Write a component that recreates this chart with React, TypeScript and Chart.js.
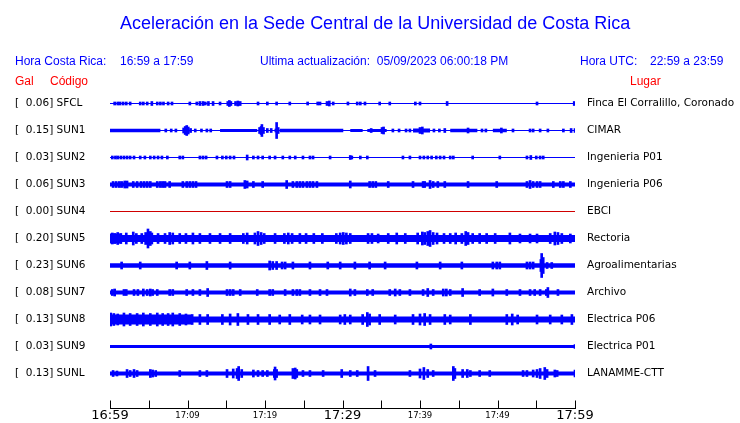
import React, { useEffect, useRef } from 'react';
import { Chart, registerables } from 'chart.js';

Chart.register(...registerables);

// ---------- data ----------
const stationCodes = ['SFCL', 'SUN1', 'SUN2', 'SUN3', 'SUN4', 'SUN5', 'SUN6', 'SUN7', 'SUN8', 'SUN9', 'SUNL'];
const peakGal = [0.06, 0.15, 0.03, 0.06, 0.0, 0.2, 0.23, 0.08, 0.13, 0.03, 0.13];
const placeNames = [
  'Finca El Corralillo, Coronado', 'CIMAR', 'Ingenieria P01', 'Ingenieria P06', 'EBCI', 'Rectoria',
  'Agroalimentarias', 'Archivo', 'Electrica P06', 'Electrica P01', 'LANAMME-CTT',
];
const timeLabels = ['16:59', '17:09', '17:19', '17:29', '17:39', '17:49', '17:59'];

// trace offset between stations (amplitude units) and background noise half-amplitude
const TRACE_OFFSET = 27;
const noiseFloor = [0.5, 0.5, 0.5, 2, 0.5, 3.5, 2.3, 2, 3, 1.5, 2];

// sustained noisy stretches: [startMinute, endMinute, halfAmplitude]
const sun1Bands = [[0, 6.5, 1.8], [14.2, 19.0, 1.5], [21.9, 30.1, 1.8], [31.0, 32.6, 1.5], [33.2, 35.7, 1.5], [39.1, 41.3, 2], [43.9, 47.4, 1.8], [49.4, 51.2, 1.8]];
const sun5Bands = [[0, 1.5, 5]];
const sun8Bands = [[0, 10.5, 5]];

// individual bursts: [minute, halfAmplitude]
const sfclBursts = [[0.6, 1.5], [1.0, 1.5], [1.3, 1.5], [1.7, 1.5], [2.1, 1.5], [2.6, 1.5], [3.9, 1.5], [4.3, 1.5], [4.8, 1.5], [5.4, 2], [6.1, 1.5], [6.5, 1.5], [6.9, 1.5], [7.5, 1.5], [8.0, 1.5], [10.3, 1.5], [11.2, 1.5], [11.6, 2], [12.0, 2], [12.3, 1.5], [12.7, 2], [13.3, 2], [14.2, 1.5], [15.2, 2], [15.4, 3], [15.6, 2], [16.2, 2], [16.5, 2.5], [16.8, 2], [19.1, 1.5], [20.3, 1.5], [21.5, 1.5], [23.2, 1.5], [25.5, 1.5], [26.8, 1.5], [27.1, 1.5], [28.0, 2], [28.3, 2.5], [28.8, 1.5], [30.7, 1.5], [31.9, 1.5], [32.3, 1.5], [32.9, 1.5], [34.8, 1.5], [36.1, 1.5], [39.4, 1.5], [40.0, 1.5], [43.5, 2], [55.1, 1.5], [59.9, 2]];
const sun1Bursts = [[7.2, 1.5], [7.9, 1.5], [8.5, 1.5], [9.5, 2.5], [9.7, 4], [9.9, 5], [10.1, 3.5], [10.4, 2], [11.0, 1.5], [11.8, 1.5], [12.5, 1.5], [13.0, 1.5], [19.3, 3], [19.5, 4], [19.6, 6], [19.8, 3], [20.3, 2], [20.8, 2], [21.4, 1.5], [21.5, 8], [21.7, 3], [33.7, 2], [35.1, 3], [35.3, 3.5], [36.5, 1.5], [37.3, 1.5], [38.2, 1.5], [38.7, 1.5], [40.0, 3], [40.3, 3.5], [41.8, 1.5], [42.5, 1.5], [43.2, 2], [46.2, 2.5], [48.0, 1.5], [48.5, 1.5], [50.5, 2.5], [52.0, 1.5], [54.2, 1.5], [54.6, 1.5], [55.5, 1.5], [56.5, 1.5], [58.5, 1.5], [59.5, 2], [60.0, 2]];
const sun2Bursts = [[0.3, 1.5], [0.7, 1.5], [1.0, 1.5], [1.4, 1.5], [1.8, 1.5], [2.2, 1.5], [2.6, 1.5], [3.1, 1.5], [3.9, 1.5], [4.5, 1.5], [5.2, 1.5], [5.7, 1.5], [6.2, 1.5], [6.7, 1.5], [7.4, 1.5], [9.0, 1.5], [9.4, 1.5], [11.6, 1.5], [12.0, 1.5], [12.4, 1.5], [13.8, 1.5], [14.5, 1.5], [15.0, 1.5], [15.5, 1.5], [16.0, 1.5], [17.7, 2.5], [18.5, 1.5], [19.1, 1.5], [19.7, 1.5], [20.6, 1.5], [21.3, 1.5], [22.3, 1.5], [23.2, 1.5], [23.9, 1.5], [24.9, 1.5], [25.8, 1.5], [26.2, 1.5], [28.4, 1.5], [31.0, 2], [31.2, 1.5], [32.3, 1.5], [33.2, 1.5], [37.8, 1.5], [38.7, 1.5], [40.0, 1.5], [40.5, 1.5], [41.0, 1.5], [41.5, 1.5], [42.1, 1.5], [42.6, 1.5], [43.1, 1.5], [43.9, 1.5], [44.3, 1.5], [46.8, 1.5], [50.3, 1.5], [53.8, 1.5], [54.3, 2], [55.0, 1.5], [55.5, 1.5], [55.9, 1.5]];
const sun3Bursts = [[0.4, 3], [0.8, 3], [1.2, 3], [1.5, 3], [1.9, 3.5], [2.2, 3.5], [3.0, 3], [3.5, 3], [4.0, 3], [4.4, 3], [4.8, 3], [5.2, 3], [6.1, 3], [6.5, 3], [6.8, 3], [7.1, 3], [7.7, 3], [9.4, 3], [9.9, 3], [10.3, 3], [10.7, 3], [11.1, 3], [15.1, 3], [15.5, 3], [17.4, 4], [17.7, 3.5], [18.5, 3], [19.7, 3], [22.8, 4], [23.6, 3], [24.1, 3], [24.5, 3], [24.9, 3], [25.4, 3], [25.8, 3], [26.2, 3], [26.7, 3], [31.0, 3.5], [33.5, 3], [33.9, 3], [34.3, 3], [35.9, 3], [39.1, 3], [40.4, 3], [40.6, 3], [41.3, 4], [41.7, 3], [42.3, 3], [43.2, 3], [46.2, 3], [49.9, 3], [53.8, 3], [54.2, 4], [54.6, 3], [55.1, 3], [55.5, 3], [57.2, 3], [58.1, 3], [58.5, 3], [59.4, 3]];
const sun4Bursts = [];
const sun5Bursts = [[0.3, 5.5], [0.6, 5], [1.0, 6], [1.4, 5], [2.1, 5.5], [3.0, 6.5], [3.4, 5], [4.1, 5], [4.6, 6], [4.9, 9.5], [5.2, 7], [5.4, 5.5], [6.2, 5], [7.1, 5], [7.7, 6], [8.1, 5.5], [9.0, 5], [9.8, 5], [10.7, 5.5], [11.6, 5], [12.9, 5], [14.2, 5], [15.5, 5], [17.2, 5], [17.7, 5.5], [18.7, 5.5], [19.1, 7], [19.5, 6], [19.9, 5], [21.3, 5], [22.5, 5], [23.0, 5.5], [23.5, 5], [24.5, 5], [25.3, 5], [26.3, 5], [27.4, 5], [29.2, 5], [29.7, 5.5], [30.1, 6], [30.5, 5.5], [31.0, 5], [33.3, 5], [33.8, 5], [34.6, 4.5], [35.9, 5], [37.0, 5.5], [38.1, 5], [39.7, 5.5], [40.3, 6.5], [40.6, 6], [41.0, 7], [41.3, 8], [41.7, 6], [42.2, 5.5], [43.1, 5], [43.9, 5], [44.6, 5.5], [45.4, 5], [45.9, 7], [46.2, 6], [46.8, 5], [47.7, 5], [48.6, 5], [49.7, 5], [51.6, 5.5], [52.9, 4.5], [54.2, 4.5], [55.1, 4.5], [56.8, 5], [57.4, 6.5], [57.8, 6], [58.3, 5], [59.4, 4.5]];
const sun6Bursts = [[1.5, 3.5], [3.9, 3.5], [8.6, 3.5], [10.3, 3.5], [12.5, 4], [15.5, 3.5], [20.6, 4.5], [21.0, 4], [21.5, 4], [22.2, 3.5], [22.6, 3.5], [23.6, 3.5], [25.8, 3.5], [28.1, 3.5], [29.7, 3.5], [31.6, 3.5], [33.5, 3.5], [35.5, 3.5], [39.6, 3.5], [42.6, 3.5], [45.4, 3.5], [49.4, 3.5], [49.9, 3.5], [50.3, 3.5], [53.8, 3.5], [54.2, 3.5], [54.6, 3.5], [55.6, 6], [55.7, 12], [55.9, 8], [56.4, 3], [57.0, 3]];
const sun7Bursts = [[0.3, 3], [0.6, 3.5], [1.8, 3], [2.1, 3], [3.1, 3], [3.6, 3], [4.3, 3.5], [4.8, 3], [5.2, 3.5], [5.5, 3], [6.1, 3], [7.7, 3], [8.1, 3], [9.9, 3], [10.7, 3], [11.6, 3], [12.6, 4], [15.1, 3], [15.5, 3], [15.9, 3], [16.8, 3], [19.0, 3], [20.6, 3], [21.0, 3], [22.6, 3], [23.6, 3], [24.1, 3], [24.5, 3], [25.8, 3], [27.1, 3], [28.0, 3], [31.0, 3.5], [31.6, 3], [33.2, 3], [33.9, 3], [36.1, 3], [36.8, 3.5], [37.4, 3], [38.7, 3], [40.4, 3], [41.0, 4], [41.7, 3], [43.0, 3.5], [43.4, 3.5], [43.9, 3], [45.5, 4], [47.7, 3], [49.4, 3.5], [51.2, 3], [52.9, 3], [54.2, 3], [54.8, 3], [55.5, 3], [56.3, 3], [56.5, 5], [57.8, 3]];
const sun8Bursts = [[0.1, 6.5], [0.5, 6], [1.0, 5.5], [1.8, 6.5], [2.6, 6], [3.5, 6], [4.3, 6.5], [5.2, 6], [6.1, 6.5], [6.8, 6], [7.5, 6], [8.1, 6.5], [9.0, 6], [9.8, 5.5], [10.6, 5], [11.6, 5], [12.6, 5], [14.5, 5], [15.5, 5.5], [16.5, 6], [17.8, 5], [19.1, 5], [20.6, 5], [21.9, 4.5], [23.2, 5], [24.8, 4.5], [25.8, 4.5], [27.1, 4.5], [29.7, 4.5], [30.3, 5], [31.0, 4.5], [32.6, 5], [33.2, 7], [33.5, 5.5], [34.8, 5], [36.8, 4.5], [39.1, 5], [40.0, 5.5], [40.6, 6], [41.3, 5], [43.2, 5], [43.9, 4.5], [46.5, 5], [51.2, 5], [51.9, 5.5], [52.6, 4.5], [55.1, 4.5], [56.8, 4.5], [58.3, 4.5], [59.6, 5]];
const sun9Bursts = [[41.4, 2.5], [60.0, 2]];
const sunlBursts = [[0.4, 3], [0.9, 2.5], [2.2, 4], [2.6, 3], [3.1, 4], [3.5, 3], [5.2, 4], [5.5, 3.5], [5.9, 3], [9.0, 3], [11.6, 3], [12.5, 3], [15.1, 4], [15.9, 4.5], [16.4, 5], [16.6, 7], [17.0, 4], [18.5, 3.5], [19.1, 3], [19.7, 3], [20.3, 3], [21.2, 4], [21.3, 6.5], [21.5, 4], [23.6, 5], [23.9, 5.5], [24.1, 4], [24.9, 3], [25.8, 3], [27.5, 3], [29.9, 4], [31.0, 3], [31.9, 3], [33.3, 7], [34.2, 3], [38.7, 3], [40.0, 4.5], [40.5, 6], [41.0, 4], [41.7, 3], [44.3, 7], [44.5, 5], [45.5, 4], [46.1, 4], [46.5, 3], [47.7, 3], [49.0, 3], [53.3, 3], [53.8, 3], [54.6, 3.5], [55.1, 4], [55.5, 5], [56.1, 6], [56.4, 4], [57.4, 3.5], [57.7, 3], [60.0, 3.5]];

const stationBands = [[], sun1Bands, [], [], [], sun5Bands, [], [], sun8Bands, [], []];
const stationBursts = [sfclBursts, sun1Bursts, sun2Bursts, sun3Bursts, sun4Bursts, sun5Bursts, sun6Bursts, sun7Bursts, sun8Bursts, sun9Bursts, sunlBursts];

// ---------- styles ----------
const BLUE = '#0000ff';
const RED = '#d00000';
const traceColor = (code: string) => (code === 'SUN4' ? RED : BLUE);
const LABEL_FONT = "'DejaVu Sans', sans-serif";

function envelope(floor: number, bands: number[][]) {
  const pts: number[][] = [[0, floor]];
  for (const [t0, t1, a] of bands) {
    pts.push([t0, floor], [t0, a], [t1, a], [t1, floor]);
  }
  pts.push([60, floor]);
  return pts;
}

const axisPlugin = {
  id: 'seisAxis',
  afterDraw(chart: any) {
    const x = chart.scales.x;
    const ctx = chart.ctx;
    const yb = Math.round(chart.chartArea.bottom) + 0.5;
    ctx.save();
    ctx.strokeStyle = '#000';
    ctx.lineWidth = 1;
    ctx.beginPath();
    ctx.moveTo(Math.round(x.getPixelForValue(0)), yb);
    ctx.lineTo(Math.round(x.getPixelForValue(60)) + 1, yb);
    for (const t of x.ticks) {
      const px = Math.round(x.getPixelForValue(t.value)) + 0.5;
      ctx.moveTo(px, yb);
      ctx.lineTo(px, yb - 8);
    }
    ctx.stroke();
    ctx.restore();
  },
};

const noPad = (s: any) => {
  s.paddingTop = 0;
  s.paddingBottom = 0;
  s.paddingLeft = 0;
  s.paddingRight = 0;
};

export default function App() {
  const canvasRef = useRef<HTMLCanvasElement | null>(null);

  useEffect(() => {
    document.body.style.margin = '0';
    const canvas = canvasRef.current;
    if (!canvas) return;

    const datasets: any[] = [];
    stationCodes.forEach((code, i) => {
      const c = i * TRACE_OFFSET;
      const color = traceColor(code);
      const env = envelope(noiseFloor[i], stationBands[i]);
      datasets.push({
        type: 'line',
        data: env.map(([t, a]) => ({ x: t, y: c - a })),
        borderWidth: 0,
        borderColor: 'rgba(0,0,0,0)',
        backgroundColor: color,
        pointRadius: 0,
        fill: false,
        tension: 0,
      });
      datasets.push({
        type: 'line',
        data: env.map(([t, a]) => ({ x: t, y: c + a })),
        borderWidth: 0,
        borderColor: 'rgba(0,0,0,0)',
        backgroundColor: color,
        pointRadius: 0,
        fill: '-1',
        tension: 0,
      });
      datasets.push({
        type: 'bar',
        data: stationBursts[i].map(([t, a]) => ({ x: t, y: [c - a, c + a] })),
        backgroundColor: color,
        borderWidth: 0,
        barThickness: 2,
        grouped: false,
      });
    });

    const rowTicks = (scale: any) => {
      scale.ticks = stationCodes.map((_, i) => ({ value: i * TRACE_OFFSET }));
    };
    const yMin = -TRACE_OFFSET / 2;
    const yMax = 304.5;

    const chart = new Chart(canvas, {
      type: 'bar',
      data: { datasets },
      plugins: [axisPlugin],
      options: {
        responsive: false,
        animation: false,
        devicePixelRatio: 1,
        events: [],
        layout: { padding: { left: 15, top: 90, right: 0, bottom: 0 } },
        plugins: { legend: { display: false }, tooltip: { enabled: false }, title: { display: false } },
        scales: {
          x: {
            type: 'linear',
            min: 0,
            max: 60,
            offset: false,
            grid: { display: false, drawTicks: false, tickLength: 0 },
            border: { display: false },
            ticks: {
              stepSize: 5,
              autoSkip: false,
              maxRotation: 0,
              padding: 0,
              color: '#000',
              callback: (v: any) => (Number(v) % 10 === 0 ? timeLabels[Number(v) / 10] : ''),
              font: (ctx: any) => {
                const v = ctx.tick ? ctx.tick.value : 0;
                return v % 30 === 0
                  ? { family: LABEL_FONT, size: 13, lineHeight: 1.2 }
                  : { family: LABEL_FONT, size: 8.5, lineHeight: 15.6 / 8.5 };
              },
            },
            afterFit: (s: any) => { s.height = 15; noPad(s); },
          },
          y: {
            type: 'linear',
            position: 'left',
            reverse: true,
            min: yMin,
            max: yMax,
            grid: { display: false, drawTicks: false, tickLength: 0 },
            border: { display: false },
            afterBuildTicks: rowTicks,
            ticks: {
              crossAlign: 'far',
              padding: 0,
              color: '#000',
              font: { family: LABEL_FONT, size: 10.5 },
              callback: (_v: any, idx: number) => `[  ${peakGal[idx].toFixed(2)}] ${stationCodes[idx]}`,
            },
            afterFit: (s: any) => { s.width = 95; noPad(s); },
          },
          y2: {
            type: 'linear',
            position: 'right',
            reverse: true,
            min: yMin,
            max: yMax,
            grid: { display: false, drawTicks: false, tickLength: 0 },
            border: { display: false },
            afterBuildTicks: rowTicks,
            ticks: {
              padding: 12,
              color: '#000',
              font: { family: LABEL_FONT, size: 10.5 },
              callback: (_v: any, idx: number) => placeNames[idx],
            },
            afterFit: (s: any) => { s.width = 165; noPad(s); },
          },
        },
      } as any,
    });
    return () => chart.destroy();
  }, []);

  const hdr: React.CSSProperties = {
    position: 'absolute',
    whiteSpace: 'pre',
    fontFamily: "'Liberation Sans', Arial, sans-serif",
    fontSize: 12,
    lineHeight: '12px',
    color: BLUE,
  };
  return (
    <div style={{ position: 'relative', width: 740, height: 423, background: '#fff', overflow: 'hidden' }}>
      <canvas ref={canvasRef} width={740} height={423} style={{ display: 'block' }} />
      <div style={{ ...hdr, left: 120, top: 14, fontSize: 18, lineHeight: '18px' }}>
        Aceleración en la Sede Central de la Universidad de Costa Rica
      </div>
      <div style={{ ...hdr, left: 15, top: 55 }}>Hora Costa Rica:</div>
      <div style={{ ...hdr, left: 120, top: 55 }}>16:59 a 17:59</div>
      <div style={{ ...hdr, left: 260, top: 55 }}>Ultima actualización:  05/09/2023 06:00:18 PM</div>
      <div style={{ ...hdr, left: 580, top: 55 }}>Hora UTC:</div>
      <div style={{ ...hdr, left: 650, top: 55 }}>22:59 a 23:59</div>
      <div style={{ ...hdr, left: 15, top: 75, color: '#ff0000' }}>Gal</div>
      <div style={{ ...hdr, left: 50, top: 75, color: '#ff0000' }}>Código</div>
      <div style={{ ...hdr, left: 630, top: 75, color: '#ff0000' }}>Lugar</div>
    </div>
  );
}
